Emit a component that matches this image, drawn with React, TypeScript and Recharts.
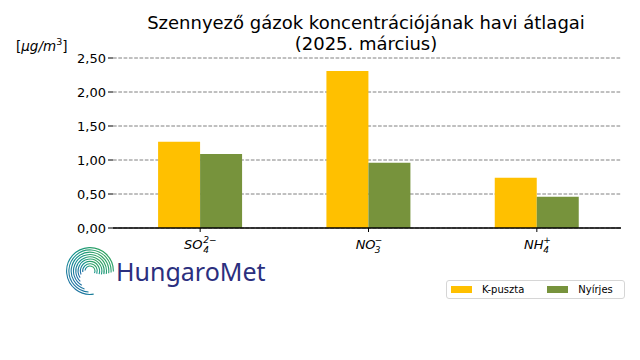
import React from "react";
import {
  BarChart,
  Bar,
  XAxis,
  YAxis,
  CartesianGrid,
  Customized,
} from "recharts";

// ion labels: base text, subscript, superscript
const IONS = ["SO", "NO", "NH"];
const ION_SUB = ["4", "3", "4"];
const ION_SUP = ["2\u2212", "\u2212", "+"];

const K_PUSZTA = [1.27, 2.31, 0.74];
const NYIRJES = [1.09, 0.96, 0.46];

const Y_TICKS = [0, 0.5, 1, 1.5, 2, 2.5];

const SERIES = [
  { key: "kpuszta", name: "K-puszta", color: "#FFC000" },
  { key: "nyirjes", name: "Nyírjes", color: "#77933C" },
];

const data = IONS.map((ion, i) => ({
  ion,
  kpuszta: K_PUSZTA[i],
  nyirjes: NYIRJES[i],
}));

const FONT = "'DejaVu Sans', sans-serif";

function IonTick(props: any) {
  const { x, y, payload } = props;
  const i = IONS.indexOf(payload.value);
  const base = IONS[i];
  const sub = ION_SUB[i];
  const sup = ION_SUP[i];
  // rough glyph widths for DejaVu Sans Oblique
  const baseW = base.length * 9.6;
  const scriptW = Math.max(sub.length * 5.8, sup.length * 6.5);
  const x0 = x - (baseW + scriptW) / 2;
  const by = y + 15;
  return (
    <text fontFamily={FONT} fontStyle="italic" fill="#000">
      <tspan x={x0} y={by} fontSize={13}>
        {base}
      </tspan>
      <tspan x={x0 + baseW} y={by + 4} fontSize={9}>
        {sub}
      </tspan>
      <tspan x={x0 + baseW} y={by - 6} fontSize={9}>
        {sup}
      </tspan>
    </text>
  );
}

function Extras() {
  const cx = 90;
  const cy = 271;
  const arcs = [];
  for (let i = 0; i < 9; i++) {
    const r = 5 + i * 2.3;
    const start = 25 - i * 3; // degrees, svg orientation (clockwise from +x)
    const span = 200 + i * 10; // swept counter-clockwise over the top
    const a0 = (start * Math.PI) / 180;
    const a1 = ((start - span) * Math.PI) / 180;
    const x1 = cx + r * Math.cos(a0);
    const y1 = cy + r * Math.sin(a0);
    const x2 = cx + r * Math.cos(a1);
    const y2 = cy + r * Math.sin(a1);
    arcs.push(
      <path
        key={i}
        d={`M${x1},${y1} A${r},${r} 0 ${span > 180 ? 1 : 0} 0 ${x2},${y2}`}
        fill="none"
        stroke="url(#hmGrad)"
        strokeWidth={1.1}
      />
    );
  }
  return (
    <g>
      <text x={366} y={29} textAnchor="middle" fontFamily={FONT} fontSize={18} fill="#000">
        Szennyező gázok koncentrációjának havi átlagai
      </text>
      <text x={366} y={50} textAnchor="middle" fontFamily={FONT} fontSize={18} fill="#000">
        (2025. március)
      </text>
      <text x={16} y={51} fontFamily={FONT} fontSize={13.5} fill="#000">
        <tspan>[</tspan>
        <tspan fontStyle="italic">µg/m</tspan>
        <tspan fontSize={9.5} dy={-6}>3</tspan>
        <tspan dy={6}>]</tspan>
      </text>
      <defs>
        <linearGradient id="hmGrad" x1="1" y1="0" x2="0" y2="1">
          <stop offset="0%" stopColor="#3DAA4F" />
          <stop offset="50%" stopColor="#14938F" />
          <stop offset="100%" stopColor="#2166A8" />
        </linearGradient>
      </defs>
      {arcs}
      <text x={116} y={281} fontFamily="'Noto Sans', sans-serif" fontSize={25} fill="#2B2F7E">
        HungaroMet
      </text>
    </g>
  );
}

function LegendBox() {
  return (
    <div
      style={{
        position: "absolute",
        left: 446,
        top: 280,
        display: "flex",
        alignItems: "center",
        width: 177,
        height: 17,
        border: "1px solid #d6d6d6",
        borderRadius: 3,
        background: "#fff",
        fontFamily: FONT,
        fontSize: 10,
        color: "#000",
      }}
    >
      {SERIES.map((s, i) => (
        <div
          key={s.key}
          style={{ display: "flex", alignItems: "center", marginLeft: i === 0 ? 4 : 23 }}
        >
          <span style={{ width: 21, height: 7, background: s.color, display: "inline-block" }} />
          <span style={{ marginLeft: 10 }}>{s.name}</span>
        </div>
      ))}
    </div>
  );
}

export default function App() {
  return (
    <div style={{ position: "absolute", left: 0, top: 0, width: 640, height: 360, background: "#fff" }}>
      <BarChart
        width={640}
        height={360}
        data={data}
        margin={{ top: 58, right: 19, bottom: 102, left: 63 }}
        barCategoryGap="25%"
        barGap={0}
      >
        <CartesianGrid
          horizontal
          vertical={false}
          stroke="#808080"
          strokeDasharray="3.7 1.6"
        />
        <XAxis
          dataKey="ion"
          height={30}
          padding={{ left: 3, right: 0 }}
          axisLine={{ stroke: "#000", strokeWidth: 1.3 }}
          tickLine={{ stroke: "#000" }}
          tickSize={4}
          tick={<IonTick />}
          interval={0}
        />
        <YAxis
          width={50}
          domain={[0, 2.5]}
          ticks={Y_TICKS}
          axisLine={false}
          tickLine={{ stroke: "#000" }}
          tickSize={5}
          tickMargin={2}
          tick={{ fill: "#000", fontSize: 13, fontFamily: FONT }}
          tickFormatter={(v: number) => v.toFixed(2).replace(".", ",")}
        />
        {SERIES.map((s) => (
          <Bar
            key={s.key}
            dataKey={s.key}
            name={s.name}
            fill={s.color}
            isAnimationActive={false}
          />
        ))}
        <Customized component={Extras} />
      </BarChart>
      <LegendBox />
    </div>
  );
}
